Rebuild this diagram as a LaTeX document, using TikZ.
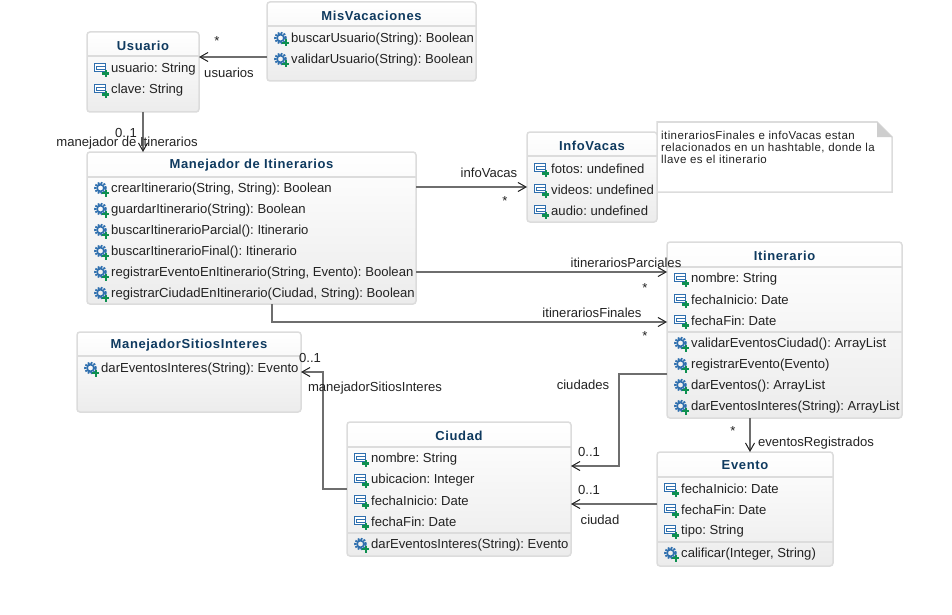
\documentclass[tikz,border=0pt]{standalone}
\usepackage{fontspec}
\setmainfont{Liberation Sans}
\newfontfamily\ttlfont[LetterSpace=5]{Liberation Sans}
\newfontfamily\notefont[LetterSpace=3.5]{Liberation Sans}
\usetikzlibrary{arrows.meta,calc}
\definecolor{boxedge}{HTML}{DCDCDC}
\definecolor{boxlow}{HTML}{ECECEC}
\definecolor{ttlcol}{HTML}{0F3A5F}
\definecolor{txtcol}{HTML}{222222}
\definecolor{linecol}{HTML}{6E6E6E}
\definecolor{icoblue}{HTML}{2F6FAE}
\definecolor{icogreen}{HTML}{0E9050}
\tikzset{
  x=1pt,y=-1pt,
  umlbox/.style={draw=boxedge,line width=1.5pt,rounded corners=3pt,top color=white,bottom color=boxlow,inner sep=0pt,outer sep=0pt},
  septitle/.style={draw=boxedge,line width=1.5pt},
  ttl/.style={inner sep=0pt,text=ttlcol,font=\fontsize{13}{15}\selectfont\ttlfont\bfseries},
  item/.style={anchor=west,inner sep=0pt,text=txtcol,font=\frenchspacing\fontsize{13.1}{15}\selectfont},
  lbl/.style={inner sep=0pt,text=txtcol,font=\frenchspacing\fontsize{13.1}{15}\selectfont},
  assoc/.style={draw=linecol,line width=1.7pt,-{Straight Barb[length=8pt,width=9pt,line width=1pt,color=txtcol]}},
}
\newcounter{itemc}
% name, left, top, right, bottom, title y, title
\newcommand{\umlclass}[7]{%
  \node[umlbox,minimum width=#4-#2,minimum height=#5-#3] (#1) at ({(#2+#4)/2},{(#3+#5)/2}) {};
  \node[ttl] (#1t) at ({(#2+#4)/2},#6) {#7};
}
\newcommand{\sepline}[2]{\draw[septitle] (#1.west |- 0,#2) -- (#1.east |- 0,#2);}
% box name, y, text
\newcommand{\attr}[3]{%
  \stepcounter{itemc}%
  \coordinate (ic\theitemc) at ($(#1.west |- 0,#2)+(7,0)$);
  \draw[icoblue,line width=.9pt,fill=white] ($(ic\theitemc)+(0,-4.5)$) rectangle ($(ic\theitemc)+(11.5,3.5)$);
  \draw[icoblue,line width=.7pt] ($(ic\theitemc)+(2.5,-2)$) rectangle ($(ic\theitemc)+(11.5,1)$);
  \fill[icogreen] ($(ic\theitemc)+(10.5,2)$) rectangle ($(ic\theitemc)+(12.7,9)$);
  \fill[icogreen] ($(ic\theitemc)+(8.1,4.4)$) rectangle ($(ic\theitemc)+(15.1,6.6)$);
  \node[item] (it\theitemc) at ($(#1.west |- 0,#2)+(24,1)$) {#3};
}
\newcommand{\op}[3]{%
  \stepcounter{itemc}%
  \coordinate (ic\theitemc) at ($(#1.west |- 0,#2)+(13.5,0)$);
  \draw[icoblue,line width=1.6pt] (ic\theitemc) circle (3.4pt);
  \draw[icoblue,line width=2.4pt,dash pattern=on 1.8pt off 1.2pt] (ic\theitemc) circle (5.2pt);
  \fill[icogreen] ($(ic\theitemc)+(4,1.5)$) rectangle ($(ic\theitemc)+(6.2,8.5)$);
  \fill[icogreen] ($(ic\theitemc)+(1.6,3.9)$) rectangle ($(ic\theitemc)+(8.6,6.1)$);
  \node[item] (it\theitemc) at ($(#1.west |- 0,#2)+(24,1)$) {#3};
}
\begin{document}
\begin{tikzpicture}
\useasboundingbox (0,0) rectangle (952,615);
% note
\draw[draw=boxedge,line width=1.5pt,fill=white] (657,122) -- (877,122) -- (892,137) -- (892,192) -- (657,192) -- cycle;
\fill[boxedge!85!gray] (877,122) -- (892,137) -- (877,137) -- cycle;
\node[anchor=north west,inner sep=0pt,align=left,text=txtcol,font=\fontsize{11.5}{12}\selectfont\notefont] (note) at (661,130.5) {itinerariosFinales e infoVacas estan\\relacionados en un hashtable, donde la\\llave es el itinerario};
% classes
\umlclass{mis}{267}{2}{476}{81}{15.5}{MisVacaciones}
\sepline{mis}{26}
\op{mis}{38}{buscarUsuario(String): Boolean}
\op{mis}{59}{validarUsuario(String): Boolean}
\umlclass{usu}{87}{32}{199}{112}{45.5}{Usuario}
\sepline{usu}{56}
\attr{usu}{68}{usuario: String}
\attr{usu}{89}{clave: String}
\umlclass{man}{87}{152}{416}{304}{165.5}{Manejador de Itinerarios}
\sepline{man}{177}
\op{man}{188}{crearItinerario(String, String): Boolean}
\op{man}{209}{guardarItinerario(String): Boolean}
\op{man}{230}{buscarItinerarioParcial(): Itinerario}
\op{man}{251}{buscarItinerarioFinal(): Itinerario}
\op{man}{272}{registrarEventoEnItinerario(String, Evento): Boolean}
\op{man}{293}{registrarCiudadEnItinerario(Ciudad, String): Boolean}
\umlclass{inf}{527}{132}{657}{222}{145.5}{InfoVacas}
\sepline{inf}{156}
\attr{inf}{168}{fotos: undefined}
\attr{inf}{189}{videos: undefined}
\attr{inf}{210}{audio: undefined}
\umlclass{iti}{667}{242}{902}{418}{255.5}{Itinerario}
\sepline{iti}{267}
\attr{iti}{278}{nombre: String}
\attr{iti}{299}{fechaInicio: Date}
\attr{iti}{320}{fechaFin: Date}
\sepline{iti}{332}
\op{iti}{343}{validarEventosCiudad(): ArrayList}
\op{iti}{364}{registrarEvento(Evento)}
\op{iti}{385}{darEventos(): ArrayList}
\op{iti}{406}{darEventosInteres(String): ArrayList}
\umlclass{sit}{77}{332}{301}{412}{345.5}{ManejadorSitiosInteres}
\sepline{sit}{356}
\op{sit}{368}{darEventosInteres(String): Evento}
\umlclass{ciu}{347}{422}{571}{556}{435.5}{Ciudad}
\sepline{ciu}{447}
\attr{ciu}{458}{nombre: String}
\attr{ciu}{479}{ubicacion: Integer}
\attr{ciu}{500}{fechaInicio: Date}
\attr{ciu}{521}{fechaFin: Date}
\sepline{ciu}{533}
\op{ciu}{544}{darEventosInteres(String): Evento}
\umlclass{eve}{657}{452}{833}{566}{465.5}{Evento}
\sepline{eve}{477}
\attr{eve}{488}{fechaInicio: Date}
\attr{eve}{509}{fechaFin: Date}
\attr{eve}{530}{tipo: String}
\sepline{eve}{542}
\op{eve}{553}{calificar(Integer, String)}
% connectors
\draw[assoc] (mis.west |- 0,57) -- (usu.east |- 0,57);
\draw[assoc] (usu.south -| 143,0) -- (man.north -| 143,0);
\draw[assoc] (man.east |- 0,187) -- (inf.west |- 0,187);
\draw[assoc] (man.east |- 0,272) -- (iti.west |- 0,272);
\draw[assoc] (man.south -| 272,0) |- (iti.west |- 0,322);
\draw[assoc] (iti.west |- 0,374) -| (619,466) -- (ciu.east |- 0,466);
\draw[assoc] (eve.west |- 0,504) -- (ciu.east |- 0,504);
\draw[assoc] (ciu.west |- 0,489) -| (323,372) -- (sit.east |- 0,372);
\draw[assoc] (iti.south -| 750,0) -- (eve.north -| 750,0);
% labels
\node[lbl] (l1) at (217,41) {*};
\node[lbl] (l2) at (229,73) {usuarios};
\node[lbl] (l3) at (126,133) {0..1};
\node[lbl] (l4) at (127,143) {manejador de Itinerarios};
\node[lbl] (l5) at (489,173) {infoVacas};
\node[lbl] (l6) at (505,201) {*};
\node[lbl] (l7) at (626,263) {itinerariosParciales};
\node[lbl] (l8) at (645,288) {*};
\node[lbl] (l9) at (592,313) {itinerariosFinales};
\node[lbl] (l10) at (645,336) {*};
\node[lbl] (l11) at (583,385) {ciudades};
\node[lbl] (l12) at (589,452) {0..1};
\node[lbl] (l13) at (589,490) {0..1};
\node[lbl] (l14) at (600,520) {ciudad};
\node[lbl] (l15) at (733,431) {*};
\node[lbl] (l16) at (816,443) {eventosRegistrados};
\node[lbl] (l17) at (310,358) {0..1};
\node[lbl] (l18) at (375,388) {manejadorSitiosInteres};
\end{tikzpicture}
\end{document}
